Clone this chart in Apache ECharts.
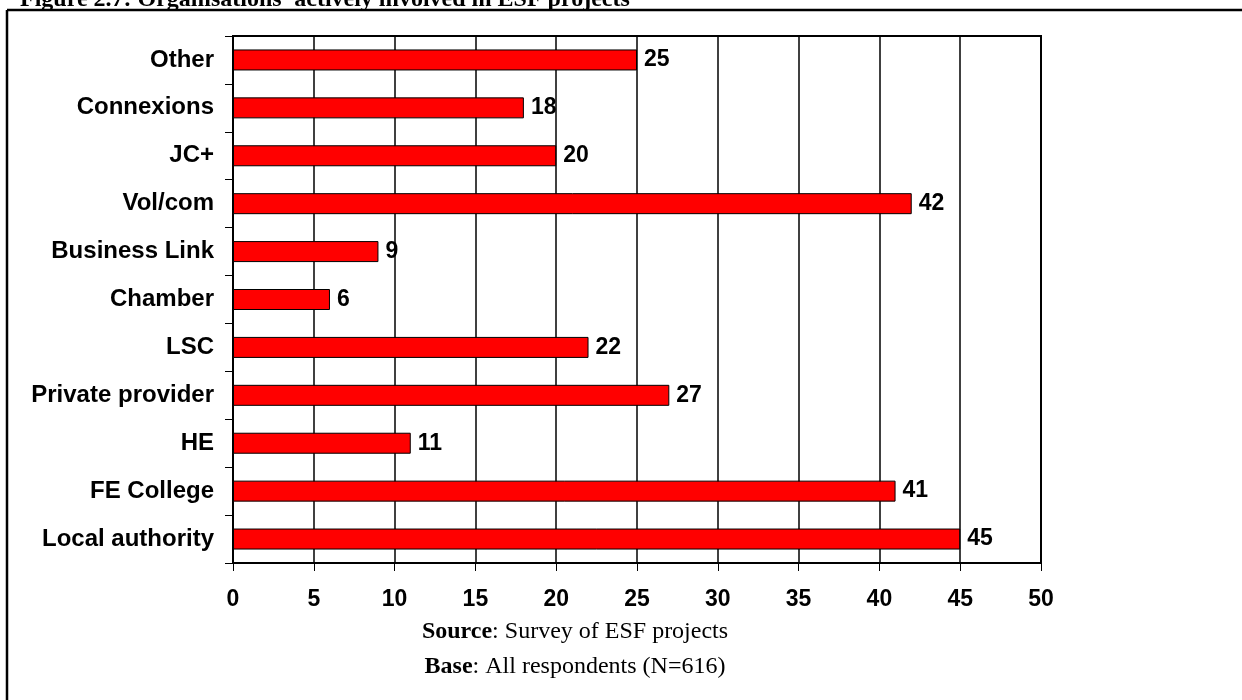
<!DOCTYPE html>
<html>
<head>
<meta charset="utf-8">
<script src="https://cdn.jsdelivr.net/npm/echarts@6/dist/echarts.min.js"></script>
<style>html,body{margin:0;padding:0;background:#fff}#c{width:1242px;height:700px}</style>
</head>
<body>
<div id="c"></div>
<script>
var categories = ["Local authority","FE College","HE","Private provider","LSC","Chamber","Business Link","Vol/com","JC+","Connexions","Other"];
var values = [45,41,11,27,22,6,9,42,20,18,25];
var xTicks = {min:0, max:50, interval:5};
var titleText = "Figure 2.7: Organisations' actively involved in ESF projects";

var sans = '"Liberation Sans", Arial, sans-serif';
var serif = '"Liberation Serif", "Times New Roman", serif';
var chart = echarts.init(document.getElementById('c'), null, {renderer:'canvas'});
chart.setOption({
  backgroundColor:'#fff',
  animation:false,
  grid:{left:233, right:201, top:36, bottom:137, show:true, borderColor:'#000', borderWidth:2, backgroundColor:'transparent'},
  xAxis:{type:'value', min:xTicks.min, max:xTicks.max, interval:xTicks.interval,
    axisLine:{show:true, lineStyle:{color:'#000', width:2}},
    axisTick:{show:true, inside:false, length:8, lineStyle:{color:'#000', width:1}},
    axisLabel:{color:'#000', fontFamily:sans, fontWeight:'bold', fontSize:23, margin:25},
    splitLine:{show:true, lineStyle:{color:'#000', width:1.5}}},
  yAxis:{type:'category', data:categories,
    axisLine:{show:true, lineStyle:{color:'#000', width:2}},
    axisTick:{show:true, inside:false, length:8, lineStyle:{color:'#000', width:1}},
    axisLabel:{color:'#000', fontFamily:sans, fontWeight:'bold', fontSize:24, margin:19},
    splitLine:{show:false}},
  series:[{type:'bar', data:values, barWidth:21,
    itemStyle:{color:'#ff0000', borderColor:'#000', borderWidth:1},
    label:{show:true, position:'right', distance:7, color:'#000', fontFamily:sans, fontWeight:'bold', fontSize:23}}],
  graphic:[
    {type:'line', shape:{x1:7, y1:10, x2:1242, y2:10}, style:{stroke:'#000', lineWidth:2.5}},
    {type:'line', shape:{x1:7, y1:10, x2:7, y2:700}, style:{stroke:'#000', lineWidth:2.5}},
    {type:'text', style:{x:20, y:0, text:titleText, verticalAlign:'middle', align:'left', font:'bold 24px ' + serif, fill:'#000'}},
    {type:'text', style:{x:575, y:632, align:'center', verticalAlign:'middle',
      text:'{b|Source}{r|: Survey of ESF projects}',
      rich:{b:{fontWeight:'bold', fontFamily:serif, fontSize:24}, r:{fontFamily:serif, fontSize:24}}, fill:'#000'}},
    {type:'text', style:{x:575, y:667, align:'center', verticalAlign:'middle',
      text:'{b|Base}{r|: All respondents (N=616)}',
      rich:{b:{fontWeight:'bold', fontFamily:serif, fontSize:24}, r:{fontFamily:serif, fontSize:24}}, fill:'#000'}}
  ]
});
</script>
</body>
</html>
